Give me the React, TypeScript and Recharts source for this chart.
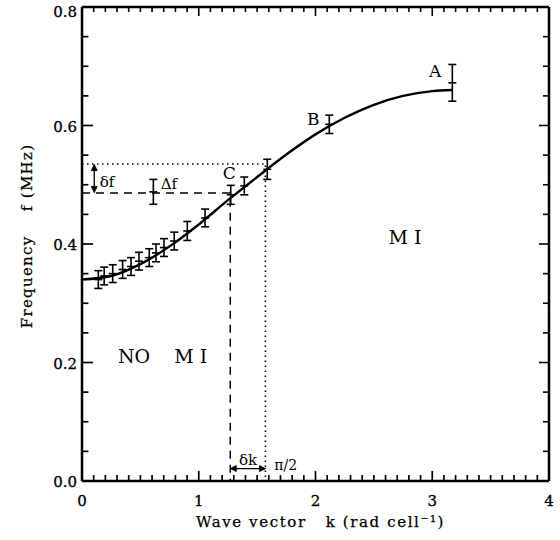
import React from 'react'
import { ComposedChart, Line, Scatter, ErrorBar, XAxis, YAxis, ReferenceDot, ReferenceLine } from 'recharts'

// fitted dispersion curve
const curveK = [0, 0.25, 0.5, 0.75, 1.0, 1.25, 1.5, 1.75, 2.0, 2.25, 2.5, 2.75, 3.0, 3.17]
const curveF = [0.340, 0.346, 0.366, 0.396, 0.433, 0.474, 0.513, 0.551, 0.585, 0.613, 0.635, 0.650, 0.658, 0.660]

// measured points with error bars
const ptK = [0.14, 0.19, 0.263, 0.348, 0.42, 0.488, 0.576, 0.634, 0.702, 0.79, 0.902, 1.054, 1.274, 1.39, 1.587, 2.118, 3.172, 0.611]
const ptF = [0.340, 0.346, 0.350, 0.357, 0.362, 0.371, 0.377, 0.385, 0.394, 0.405, 0.422, 0.444, 0.483, 0.498, 0.526, 0.602, 0.672, 0.488]
const ptErr = [0.015, 0.015, 0.015, 0.015, 0.015, 0.015, 0.015, 0.015, 0.015, 0.015, 0.016, 0.015, 0.016, 0.015, 0.017, 0.0155, 0.031, 0.021]

// guide lines
const dashK = [0, 1.27, 1.27]
const dashF = [0.486, 0.486, 0]
const dotK = [0, 1.571, 1.571]
const dotF = [0.535, 0.535, 0]
const dfArrowK = [0.105, 0.105]
const dfArrowF = [0.487, 0.534]
const dkArrowK = [1.27, 1.571]
const dkArrowF = [0.021, 0.021]

// annotation labels
const notes = [
  { k: 3.024, f: 0.692, text: 'A', size: 17 },
  { k: 1.98, f: 0.611, text: 'B', size: 17 },
  { k: 1.262, f: 0.52, text: 'C', size: 17 },
  { k: 0.215, f: 0.506, text: 'δf', size: 15 },
  { k: 0.745, f: 0.502, text: 'Δf', size: 15 },
  { k: 1.422, f: 0.036, text: 'δk', size: 15 },
  { k: 1.745, f: 0.027, text: 'π/2', size: 14 },
  { k: 0.69, f: 0.21, text: 'NO\u00a0\u00a0\u00a0\u00a0M\u00a0I', size: 19 },
  { k: 2.767, f: 0.411, text: 'M\u00a0I', size: 19 },
]

const xTicks = Array.from({ length: 41 }, (_, i) => i / 10)
const yTicks = Array.from({ length: 17 }, (_, i) => i / 20)

const zip = (xs: number[], ys: number[]) => xs.map((k, i) => ({ k, f: ys[i] }))
const curve = zip(curveK, curveF)
const points = ptK.map((k, i) => ({ k, f: ptF[i], e: ptErr[i] }))

const FONT = 'DejaVu Serif'
const W = 560
const H = 540
const M = { top: 6, right: 10, left: 0, bottom: 0 }
const LEFT_W = 82
const BOTTOM_H = 59

const isMajorX = (v: number) => Math.abs(v - Math.round(v)) < 1e-6
const isMajorY = (v: number) => Math.abs(v * 5 - Math.round(v * 5)) < 1e-6

// inward tick lengths on the bottom/left frame, in axis units (~6px / ~10px)
const xTickLen = (v: number) => (isMajorX(v) ? 0.017 : 0.010)
const yTickLen = (v: number) => (isMajorY(v) ? 0.095 : 0.055)

const BottomTick = ({ x, y, payload }: any) =>
  isMajorX(payload.value) ? (
    <text x={x} y={y + 25} textAnchor="middle" fontFamily={FONT} fontSize={15} fill="#000" stroke="#000" strokeWidth={0.3}>{payload.value}</text>
  ) : (
    <g />
  )
const TopTick = ({ x, y, payload }: any) => (
  <line x1={x} y1={y} x2={x} y2={y + (isMajorX(payload.value) ? 9 : 5)} stroke="#000" strokeWidth={1.6} />
)
const LeftTick = ({ x, y, payload }: any) =>
  isMajorY(payload.value) ? (
    <text x={x - 5} y={Math.max(y + 1, 12)} dy="0.36em" textAnchor="end" fontFamily={FONT} fontSize={15} fill="#000" stroke="#000" strokeWidth={0.3}>{payload.value.toFixed(1)}</text>
  ) : (
    <g />
  )
const RightTick = ({ x, y, payload }: any) => (
  <line x1={x} y1={y} x2={x - (isMajorY(payload.value) ? 10 : 6)} y2={y} stroke="#000" strokeWidth={1.6} />
)

const YTitle = ({ viewBox }: any) => {
  const cx = viewBox.x + 27
  const cy = viewBox.y + viewBox.height / 2 - 8
  return (
    <text x={cx} y={cy} dy="0.36em" transform={`rotate(-90 ${cx} ${cy})`} textAnchor="middle" fontFamily={FONT} fontSize={15} letterSpacing={1.3} fill="#000" stroke="#000" strokeWidth={0.25}>
      {'Frequency\u00a0\u00a0\u00a0\u00a0f (MHz)'}
    </text>
  )
}
const XTitle = ({ viewBox }: any) => {
  const cx = viewBox.x + viewBox.width / 2 + 5
  const cy = viewBox.y + 41
  return (
    <text x={cx} y={cy} dy="0.36em" textAnchor="middle" fontFamily={FONT} fontSize={15} letterSpacing={1.6} fill="#000" stroke="#000" strokeWidth={0.25}>
      {'Wave vector\u00a0\u00a0\u00a0k (rad cell⁻¹)'}
    </text>
  )
}

const Tick = (props: any) => {
  const { cx, cy } = props
  return <line x1={cx - 4} y1={cy} x2={cx + 4} y2={cy} stroke="#000" strokeWidth={1.6} />
}

const arrowHead = (dir: 'up' | 'down' | 'left' | 'right') => (props: any) => {
  const { cx, cy, index } = props
  const d = index === 0 ? dir : dir === 'up' ? 'down' : dir === 'down' ? 'up' : dir === 'left' ? 'right' : 'left'
  let pts = ''
  if (d === 'down') pts = `${cx - 3},${cy - 6} ${cx},${cy} ${cx + 3},${cy - 6}`
  if (d === 'up') pts = `${cx - 3},${cy + 6} ${cx},${cy} ${cx + 3},${cy + 6}`
  if (d === 'left') pts = `${cx + 6},${cy - 3} ${cx},${cy} ${cx + 6},${cy + 3}`
  if (d === 'right') pts = `${cx - 6},${cy - 3} ${cx},${cy} ${cx - 6},${cy + 3}`
  return <polygon key={`ah-${index}`} points={pts} fill="#000" stroke="#000" strokeWidth={0.8} />
}

const axisLine = { stroke: '#000', strokeWidth: 2.5 }

export default function App() {
  return (
    <div style={{ position: 'absolute', left: 0, top: 0, width: W, height: H, background: '#fff' }}>
      <ComposedChart width={W} height={H} margin={M}>
        <XAxis dataKey="k" type="number" domain={[0, 4]} ticks={xTicks} interval={0} allowDataOverflow
          height={BOTTOM_H} tickSize={0} tickMargin={0} tick={<BottomTick />} tickLine={false} axisLine={axisLine}
          label={{ content: <XTitle /> }} />
        <XAxis xAxisId="top" orientation="top" dataKey="k" type="number" domain={[0, 4]} ticks={xTicks} interval={0}
          allowDataOverflow height={1} tickSize={0} tickMargin={0} tick={<TopTick />} tickLine={false} axisLine={axisLine} />
        <YAxis type="number" domain={[0, 0.8]} ticks={yTicks} interval={0} allowDataOverflow
          width={LEFT_W} tickSize={0} tickMargin={0} tick={<LeftTick />} tickLine={false} axisLine={axisLine}
          label={{ content: <YTitle /> }} />
        <YAxis yAxisId="right" orientation="right" type="number" domain={[0, 0.8]} ticks={yTicks} interval={0}
          allowDataOverflow width={1} tickSize={0} tickMargin={0} tick={<RightTick />} tickLine={false} axisLine={axisLine} />

        {/* inward ticks on bottom and left frame */}
        {xTicks.slice(1, -1).map((v) => (
          <ReferenceLine key={`bx-${v}`} segment={[{ x: v, y: 0 }, { x: v, y: xTickLen(v) }]}
            stroke="#000" strokeWidth={1.7} ifOverflow="visible" />
        ))}
        {yTicks.slice(1, -1).map((v) => (
          <ReferenceLine key={`ly-${v}`} segment={[{ x: 0, y: v }, { x: yTickLen(v), y: v }]}
            stroke="#000" strokeWidth={1.7} ifOverflow="visible" />
        ))}

        <Line data={zip(dashK, dashF)} dataKey="f" type="linear" stroke="#000" strokeWidth={1.5} strokeDasharray="8 6" dot={false} isAnimationActive={false} />
        <Line data={zip(dotK, dotF)} dataKey="f" xAxisId="top" yAxisId="right" type="linear" stroke="#000" strokeWidth={1.6} strokeDasharray="1.5 3.5" dot={false} isAnimationActive={false} />
        <Line data={curve} dataKey="f" type="monotone" stroke="#000" strokeWidth={2.4} dot={false} isAnimationActive={false} />
        <Line data={zip(dfArrowK, dfArrowF)} dataKey="f" type="linear" stroke="#000" strokeWidth={1.3} dot={arrowHead('down')} isAnimationActive={false} />
        <Line data={zip(dkArrowK, dkArrowF)} dataKey="f" type="linear" stroke="#000" strokeWidth={1.3} dot={arrowHead('left')} isAnimationActive={false} />
        <Scatter data={points} dataKey="f" shape={<Tick />} isAnimationActive={false}>
          <ErrorBar dataKey="e" direction="y" width={4} stroke="#000" strokeWidth={1.6} isAnimationActive={false} />
        </Scatter>

        {notes.map((n) => (
          <ReferenceDot key={n.text} x={n.k} y={n.f} r={0} fill="none" stroke="none"
            label={{ value: n.text, position: 'center', fontFamily: FONT, fontSize: n.size, fill: '#000' }} />
        ))}
      </ComposedChart>
    </div>
  )
}
